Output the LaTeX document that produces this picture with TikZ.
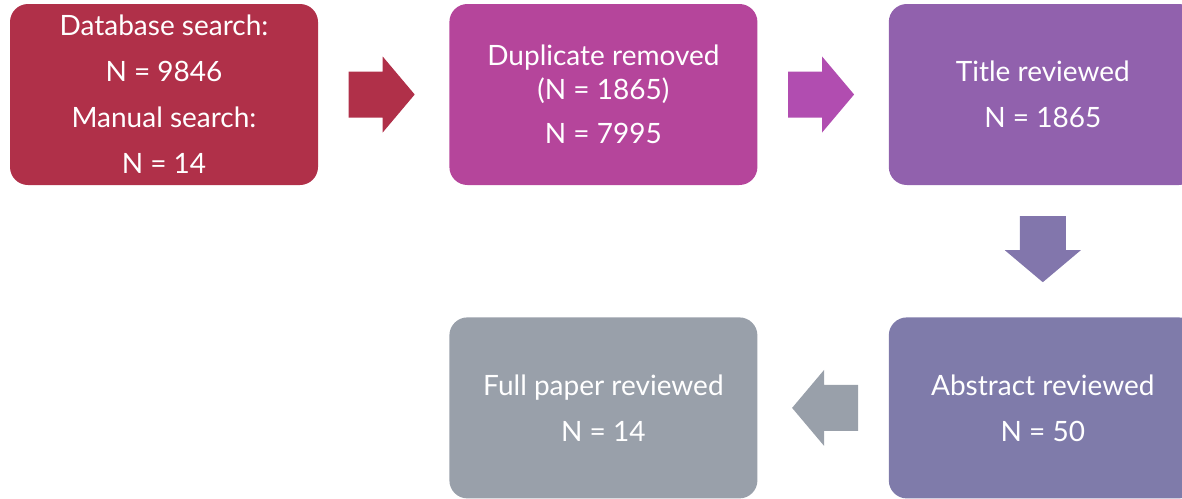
\documentclass[tikz,border=0pt]{standalone}
\usepackage{fontspec}
\setmainfont{Lato}
\usepackage{tikz}
\usetikzlibrary{positioning}
\usetikzlibrary{calc}
\definecolor{searchred}{RGB}{176,48,73}
\definecolor{dupmagenta}{RGB}{181,69,155}
\definecolor{dupArrow}{RGB}{177,77,176}
\definecolor{titlepurple}{RGB}{145,97,173}
\definecolor{abstractblue}{RGB}{127,123,170}
\definecolor{abstractArrow}{RGB}{130,118,172}
\definecolor{papergray}{RGB}{153,160,170}

\tikzset{
  stagebox/.style={rectangle,rounded corners=18pt,draw=none,fill=#1,text=white,
    minimum width=308pt,minimum height=181pt,inner sep=0pt,align=center,
    font=\fontsize{28}{46}\selectfont},
  flowarrow/.pic={
    \path[pic actions] (-33,-23) -- (1,-23) -- (1,-38) -- (33,0)
      -- (1,38) -- (1,23) -- (-33,23) -- cycle;
  }
}

\begin{document}
\begin{tikzpicture}[x=1pt,y=-1pt]
\useasboundingbox (0,0) rectangle (1182,498);
\clip (0,0) rectangle (1182,498);

%stages
\node (db) at (164,94.5) [stagebox=searchred] {Database search:\\N = 9846\\Manual search:\\N = 14};
\node (dup) [stagebox=dupmagenta,right=131pt of db] {Duplicate removed\\[-12pt](N = 1865)\\[-2pt]N = 7995};
\node (title) [stagebox=titlepurple,right=131pt of dup] {Title reviewed\\N = 1865};
\node (abs) [stagebox=abstractblue,below=132pt of title] {Abstract reviewed\\N = 50};
\node (full) [stagebox=papergray,left=131pt of abs] {Full paper reviewed\\N = 14};

%arrows between stages
\pic[fill=searchred] at ($(db.east)!0.5!(dup.west)+(-2,0)$) {flowarrow};
\pic[fill=dupArrow] at ($(dup.east)!0.5!(title.west)+(-2,0)$) {flowarrow};
\pic[fill=abstractArrow,rotate=-90] at ($(title.south)!0.5!(abs.north)+(0,-2)$) {flowarrow};
\pic[fill=papergray,rotate=180] at ($(abs.west)!0.5!(full.east)+(2,0)$) {flowarrow};
\end{tikzpicture}
\end{document}
